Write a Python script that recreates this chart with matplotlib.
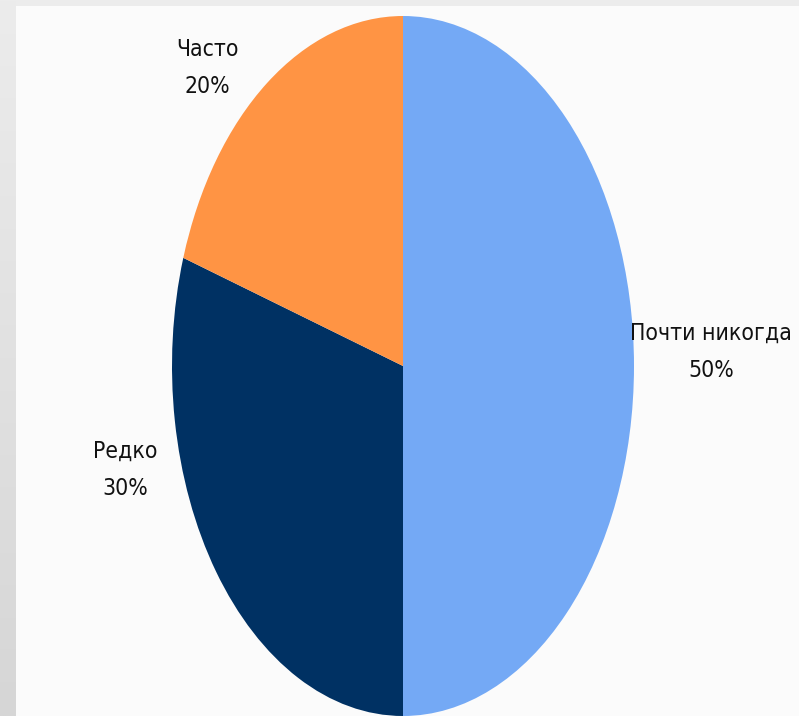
import matplotlib
matplotlib.use("Agg")
import matplotlib.pyplot as plt
from matplotlib.patches import Rectangle
import numpy as np

categories = ["Почти никогда", "Редко", "Часто"]
values = [50, 30, 20]
pct_labels = ["50%", "30%", "20%"]
colors = ["#74a9f5", "#003163", "#ff9444"]

W, H = 799, 716
fig = plt.figure(figsize=(W / 100, H / 100), dpi=100, facecolor="#fbfbfb")

# background frame (gray band top and left)
grad = np.linspace(0, 1, 256).reshape(-1, 1)
bax = fig.add_axes([0, 0, 15 / W, 1])
bax.imshow(grad, aspect="auto", cmap=matplotlib.colors.LinearSegmentedColormap.from_list(
    "g", ["#ececec", "#d6d6d6"]), extent=[0, 1, 1, 0])
bax.set_axis_off()
fig.add_artist(Rectangle((0, 1 - 6 / H), 1, 6 / H, transform=fig.transFigure,
                         facecolor="#ececec", edgecolor="none", zorder=0))

cx, cy = 403, 366
rx, ry = 231, 350
ax = fig.add_axes([(cx - rx) / W, (H - cy - ry) / H, 2 * rx / W, 2 * ry / H])
ax.pie(values, colors=colors, startangle=90, counterclock=False,
       wedgeprops=dict(linewidth=0))
ax.set_aspect("auto")
ax.set_xlim(-1, 1)
ax.set_ylim(-1, 1)
ax.set_axis_off()

label_px = [(711, 352), (125, 470), (207, 68)]
for (px, py), cat, pct in zip(label_px, categories, pct_labels):
    fig.text(px / W, 1 - py / H, f"{cat}\n{pct}", ha="center", va="center",
             multialignment="center", fontsize=16.5, family="DejaVu Sans",
             fontstretch="condensed", color="#111111", linespacing=1.75)

fig.savefig("out.png", dpi=100, facecolor=fig.get_facecolor())
